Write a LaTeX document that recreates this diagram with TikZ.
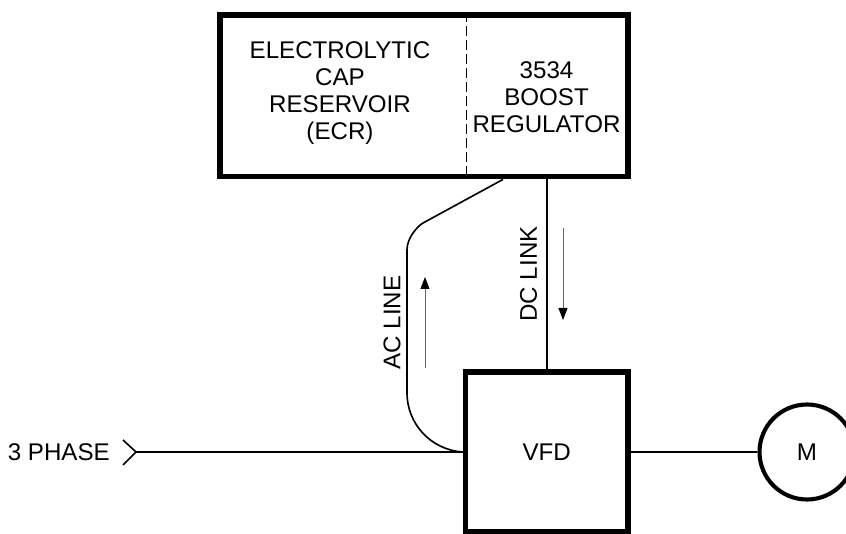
\documentclass[tikz,border=0pt]{standalone}
\usepackage{fontspec}
\setmainfont{Liberation Sans}
\usetikzlibrary{arrows.meta, positioning}

\begin{document}
\begin{tikzpicture}[
        block/.style={rectangle, draw=black, line width=5pt, inner sep=0pt},
        wire/.style={line width=1.4pt},
        flow/.style={-{Triangle[length=3.6mm, width=2.7mm, color=black]}, line width=0.8pt, draw=black!60},
        lbl/.style={font=\fontsize{20.6}{23}\selectfont, align=center, inner sep=0pt}
    ]
        \useasboundingbox (0,0) rectangle (25.38,15.99);

        % Reservoir + regulator
        \node[block, minimum width=12.24cm, minimum height=4.845cm] (res) at (12.72,13.1175) {};
        \draw[line width=0.7pt, dash pattern=on 0.3cm off 0.12cm] (res.north -| 13.98,0) -- (res.south -| 13.98,0);
        \node[lbl] (ecr) at (10.2,13.2) {ELECTROLYTIC\\CAP\\RESERVOIR\\(ECR)};
        \node[lbl] (boost) at (16.395,13.07) {3534\\BOOST\\REGULATOR};

        % Drive
        \node[block, minimum width=4.875cm, minimum height=4.8cm] (vfd) at (16.4025,2.43) {};
        \node[lbl] (vfdtxt) at (vfd.center) {VFD};
        \node[circle, draw=black, line width=3.5pt, minimum size=2.85cm, lbl] (motor) at (24.21,2.43) {M};

        % Supply
        \node[lbl, anchor=east] (phase) at (3.3,2.43) {3 PHASE};
        \coordinate (in) at (4.08,2.43);
        \draw[wire] (in) ++(-0.39,0.36) -- (in) -- ++(-0.39,-0.39);
        \draw[wire] (in) -- (vfd.west);
        \draw[wire] (vfd.east) -- (motor.west);

        % AC line up to reservoir
        \coordinate (actop) at (res.south -| 15.09,0);
        \draw[wire] (vfd.west) .. controls (12.9,2.5) and (12.21,3.3) .. (12.21,4.2)
            -- (12.21,8.5) .. controls (12.21,8.85) and (12.52,9.2) .. (12.69,9.3) -- (actop);
        \node[lbl, rotate=90] (acl) at (11.76,6.315) {AC LINE};
        \coordinate (aca) at (12.75,4.95);
        \coordinate (acb) at (12.75,7.68);
        \draw[flow] (aca) -- (acb);

        % DC link down to drive
        \draw[wire] (vfd.north) -- (vfd.north |- res.south);
        \node[lbl, rotate=90] (dcl) at (15.855,7.77) {DC LINK};
        \coordinate (dca) at (16.89,9.15);
        \coordinate (dcb) at (16.89,6.39);
        \draw[flow] (dca) -- (dcb);
    \end{tikzpicture}
\end{document}
